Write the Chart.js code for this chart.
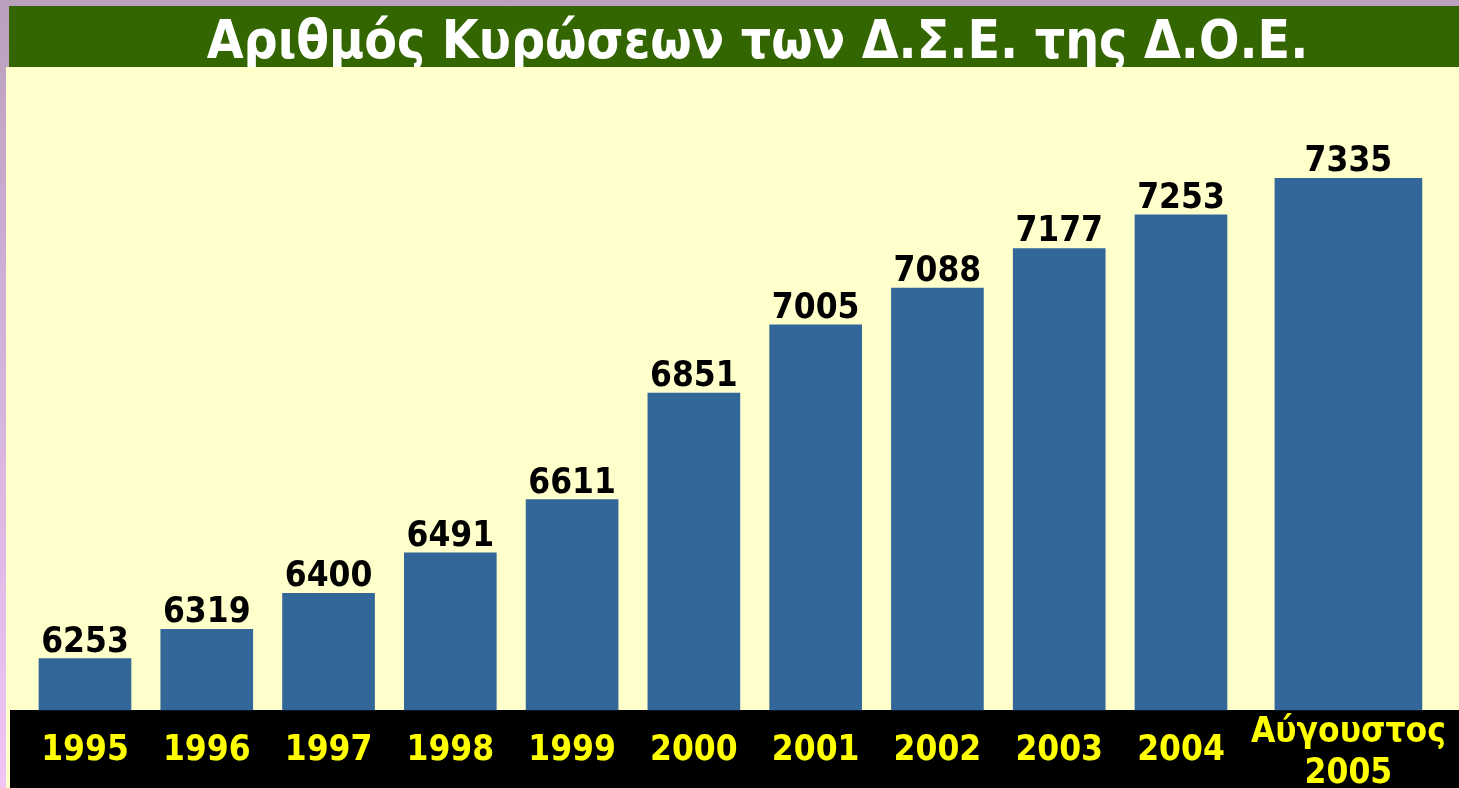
<!DOCTYPE html>
<html>
<head>
<meta charset="utf-8">
<script src="https://cdn.jsdelivr.net/npm/chart.js@4.4.1/dist/chart.umd.min.js"></script>
<style>
  html, body { margin: 0; padding: 0; overflow: hidden; width: 1459px; height: 788px;
    background: linear-gradient(to bottom, #BBA0BE 0%, #D0B0D8 40%, #F0C4F4 100%); }
  #wrap { position: absolute; left: 0; top: 0; width: 1459px; height: 796px; }
</style>
</head>
<body>
<div id="wrap"><canvas id="c"></canvas></div>
<script>
// ---- data ----
const titleText = 'Αριθμός Κυρώσεων των Δ.Σ.Ε. της Δ.Ο.Ε.';
const categories = ['1995', '1996', '1997', '1998', '1999', '2000', '2001', '2002', '2003', '2004', ['Αύγουστος', '2005']];
const values = [6253, 6319, 6400, 6491, 6611, 6851, 7005, 7088, 7177, 7253, 7335];
const yMin = 6137;
const yMax = 7586;

// ---- layout helpers (positions kept out of the data) ----
const lastGap = 0.375;               // extra spacing before the last (wider) bar
const xPos = categories.map((c, i) => i === categories.length - 1 ? i + lastGap : i);
const FONT = "'DejaVu Sans Condensed', 'DejaVu Sans', sans-serif";

const bgPlugin = {
  id: 'bg',
  beforeDraw(chart) {
    const ctx = chart.ctx, W = chart.width, a = chart.chartArea;
    ctx.save();
    ctx.fillStyle = '#336600';
    ctx.fillRect(9, 6, W - 9, a.top - 6);
    ctx.fillStyle = '#FFFFCC';
    ctx.fillRect(6, a.bottom, 4, chart.height - a.bottom);
    ctx.fillStyle = '#000000';
    ctx.fillRect(10, a.bottom, W - 10, chart.height - a.bottom);
    ctx.restore();
  },
  beforeDatasetsDraw(chart) {
    const ctx = chart.ctx, a = chart.chartArea, W = chart.width;
    ctx.save();
    ctx.fillStyle = '#FFFFCC';
    ctx.fillRect(6, a.top, W - 6, a.bottom - a.top);
    ctx.restore();
  },
  afterDatasetsDraw(chart) {
    const ctx = chart.ctx;
    ctx.save();
    ctx.fillStyle = '#000000';
    ctx.font = "bold 35px " + FONT;
    ctx.textAlign = 'center';
    ctx.textBaseline = 'alphabetic';
    chart.data.datasets.forEach((ds, di) => {
      const meta = chart.getDatasetMeta(di);
      meta.data.forEach((el, i) => {
        ctx.fillText(String(ds.data[i].y), el.x, el.y - 7);
      });
    });
    ctx.restore();
  }
};

const n = values.length;
const data = {
  datasets: [
    {
      data: values.slice(0, n - 1).map((v, i) => ({ x: xPos[i], y: v })),
      backgroundColor: '#336699',
      barThickness: 92,
      grouped: false,
      base: yMin,
      clip: false
    },
    {
      data: [{ x: xPos[n - 1], y: values[n - 1] }],
      backgroundColor: '#336699',
      barThickness: 147,
      grouped: false,
      base: yMin,
      clip: false
    }
  ]
};

const chart = new Chart(document.getElementById('c'), {
  type: 'bar',
  data,
  plugins: [bgPlugin],
  options: {
    responsive: true,
    maintainAspectRatio: false,
    animation: false,
    layout: { padding: { left: 56, right: 0, top: 0, bottom: 0 } },
    plugins: {
      legend: { display: false },
      tooltip: { enabled: false },
      title: {
        display: true,
        text: titleText,
        color: '#FFFFFF',
        font: { family: FONT, size: 53, weight: 'bold', lineHeight: '52px' },
        padding: { top: 18, bottom: -3 }
      }
    },
    scales: {
      x: {
        type: 'linear',
        offset: false,
        min: -0.238,
        max: 11.283,
        grid: { display: false, drawTicks: false, offset: false },
        border: { display: false },
        afterBuildTicks(scale) {
          scale.ticks = xPos.map(v => ({ value: v }));
        },
        afterFit(scale) {
          scale.paddingLeft = 0;
          scale.paddingRight = 0;
        },
        ticks: {
          autoSkip: false,
          maxRotation: 0,
          minRotation: 0,
          padding: 2,
          crossAlign: 'near',
          color: '#FFFF00',
          font: (ctx) => ({
            family: FONT, size: 35, weight: 'bold',
            lineHeight: Array.isArray(categories[ctx.index]) ? '41px' : '78px'
          }),
          callback(value, index) { return categories[index]; }
        }
      },
      y: {
        display: false,
        min: yMin,
        max: yMax
      }
    }
  }
});
</script>
</body>
</html>
